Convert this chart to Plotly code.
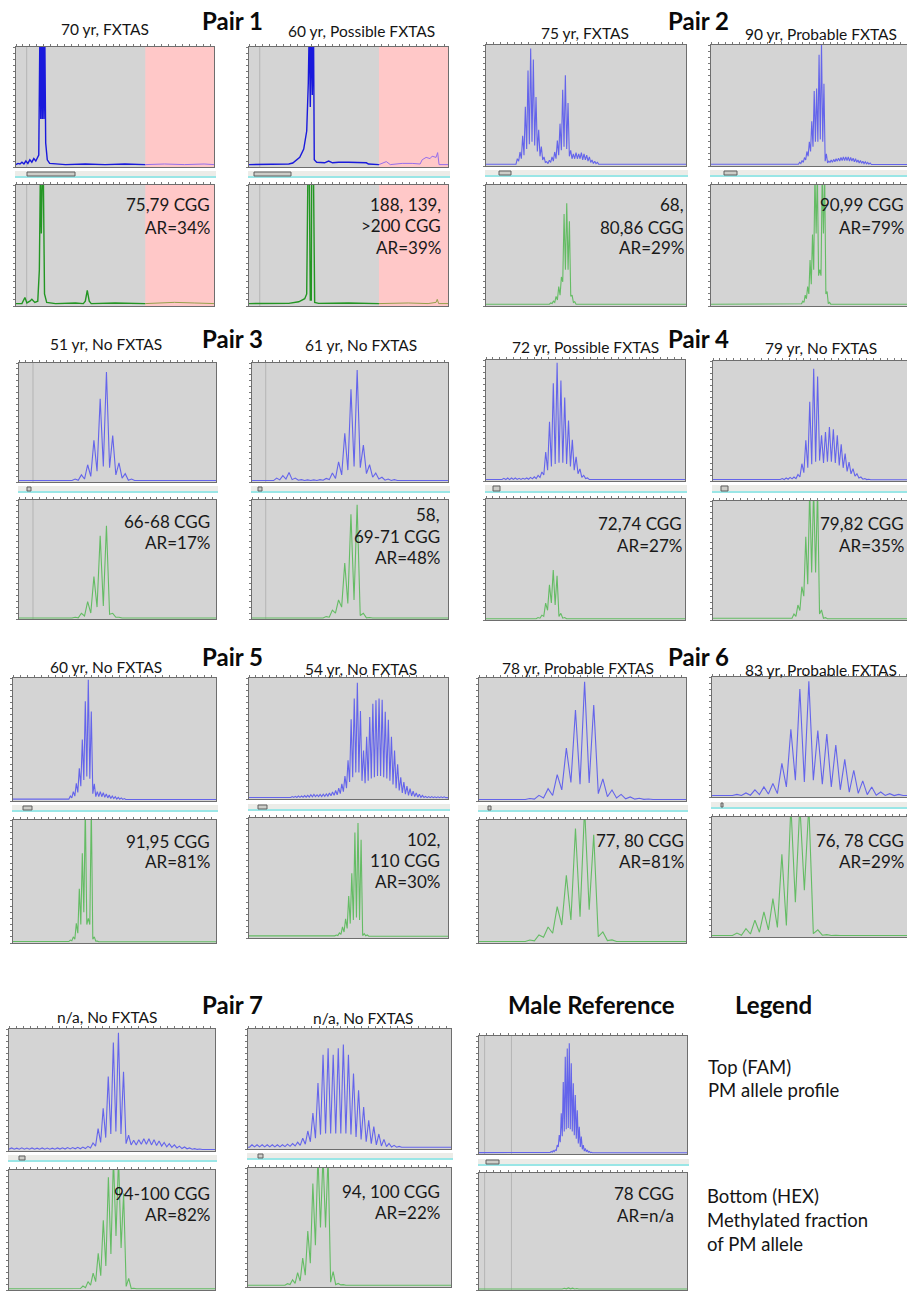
import plotly.graph_objects as go

W, H = 907, 1291

# ------------------------------------------------------------------
# DATA  (y values in % of panel height; x in % of panel width)
# ------------------------------------------------------------------
p1_70yr_fam_x = [0, 1, 2, 3, 4, 5, 6, 7, 8, 9, 10, 11, 11.5, 12.1, 12.5, 12.9, 13.3, 13.7, 14.1, 14.5, 15.0, 15.8, 17,
                 25, 35, 45, 55, 65.3, 75, 85, 95, 100]
p1_70yr_fam_y = [2, 3, 2.5, 4, 2.5, 5, 3, 6, 4, 7, 5, 8, 10, 120, 40, 120, 40, 120, 40, 120, 20, 6, 3,
                 2, 2.5, 2, 2.5, 2, 2.5, 2, 2.5, 2]
p1_70yr_hex_x = [0, 3, 4.5, 5.5, 7, 8, 9.5, 11, 11.8, 12.3, 12.8, 13.3, 13.8, 14.4, 15.5, 20, 30, 34, 35, 36,
                 37, 38, 50, 60, 65.3, 70, 80, 90, 100]
p1_70yr_hex_y = [2, 2, 7, 2.5, 4, 5.5, 3, 4, 30, 110, 60, 110, 110, 10, 3, 2, 2.5, 2, 4, 13,
                 4, 2, 2.5, 2, 2, 2.5, 3, 2.5, 2]
p1_60yr_fam_x = [0, 10, 20, 22, 25.5, 27.5, 29, 29.8, 30.3, 30.8, 31.3, 31.8, 32.4, 32.8, 34, 38, 40, 42, 45, 50,
                 55, 59, 60, 65.3, 69, 71, 77, 82, 86, 87, 89, 91, 92, 94, 94.8, 95.5, 100]
p1_60yr_fam_y = [2, 2.3, 2.5, 3.3, 8, 15, 30, 70, 120, 50, 120, 60, 120, 6, 4, 3.5, 5, 3.5, 4, 4,
                 3.5, 3.5, 2.5, 2, 4.5, 2, 3, 3, 2.5, 6, 8, 7, 9, 8, 12, 2, 2]
p1_60yr_hex_x = [0, 20, 25, 28, 29, 29.6, 30.3, 30.8, 31.3, 31.5, 32.4, 33, 35, 50, 65.3, 80, 90, 94, 94.6, 95.3, 100]
p1_60yr_hex_y = [2, 2.2, 3.5, 6, 10, 110, 110, 5, 5, 110, 110, 3, 2.2, 2.5, 2, 2.5, 2, 3, 5.5, 2, 2]

# Other pairs: profile = alternating valley / peak heights on a regular repeat grid
p2_75yr_fam = [1.5, 6, 4, 11.6, 6, 25, 9, 49, 14, 79, 18, 97, 20, 88, 17, 57, 12, 30, 8, 16, 5, 7.5, 3, 3.5,
               2, 4.7, 3, 7.5, 4, 11.6, 6, 21, 9, 35, 13, 63, 16, 75, 14, 52, 8, 13, 6, 10, 6, 11, 6, 10,
               6, 11, 5, 10, 5, 9, 4, 7.5, 3, 5, 2, 4, 2, 3, 1.5]
p2_75yr_hex = [1.5, 2.5, 2, 4, 3, 8, 5, 16, 9, 24, 20, 76, 30, 85, 30, 70, 8, 9, 3, 3.5, 1.5]
p2_90yr_fam = [1.5, 3, 2, 4.5, 3, 7, 5, 12, 8, 20, 12, 37, 16, 62, 20, 64, 20, 92, 22, 101, 20, 68, 4, 10,
               2.5, 4, 3, 5, 3, 5.5, 3.5, 6, 4, 6.5, 4, 7, 4.5, 7.5, 4.5, 7.5, 4.5, 7.5, 4, 7, 4, 6.5,
               3.5, 6, 3, 5, 2.5, 4.5, 2.2, 4, 2, 3.5, 1.8, 3, 1.5, 2.5, 1.2]
p2_90yr_hex = [1.5, 2, 1.8, 4, 3, 9, 6, 16, 10, 38, 18, 59, 30, 110, 60, 110, 25, 30, 25, 110, 60, 110,
               10, 12, 2, 3, 1.5]
p3_51yr_fam = [1.2, 2.5, 1.5, 6, 2.5, 14.5, 4.7, 35, 9, 70, 13, 92.5, 12, 39, 6, 16, 3.3, 7, 1.5, 2.5, 1.2]
p3_51yr_hex = [0.8, 1.5, 1, 4.8, 2.5, 14.6, 5, 35.6, 10, 70, 11, 78.4, 4, 4.8, 1.5, 1.5, 0.8]
p3_61yr_fam = [1.2, 3.3, 1.8, 5.3, 2.5, 8, 2, 3.3, 1.5, 2, 1.3, 1.8, 1.3, 1.8, 1.3, 2, 1.5, 3, 2, 7.5,
               3, 17, 6, 41, 10, 78, 13, 94, 12, 31, 7, 14.5, 4, 7.5, 2.5, 4, 1.5, 2.5, 1.3, 2, 1.2]
p3_61yr_hex = [0.8, 1, 0.8, 2, 1.5, 7.5, 5, 16, 10, 47, 13, 88, 16, 96, 3, 4.8, 1, 1.2, 0.8]
p4_72yr_fam = [1.2, 2.2, 1.2, 2.5, 1.2, 2.5, 1.3, 2.5, 1.3, 2.2, 1.3, 2.2, 1.5, 2.5, 1.5, 3, 1.8, 3.5,
               2, 4.7, 3, 7.5, 5, 24, 9, 49, 12, 80.7, 14, 97.8, 15, 83, 15, 69, 14, 50, 12, 34, 9, 20,
               6, 10, 3, 4.7, 2, 2.5, 1.2]
p4_72yr_hex = [1, 2, 1.5, 4, 3, 14, 8, 29, 14, 41.4, 12.4, 36.5, 3, 5.5, 1.5, 2, 1]
p4_79yr_fam = [1.2, 2, 1.2, 2.5, 1.5, 3, 1.8, 3.3, 2, 5.5, 3.5, 14.4, 7, 34, 11, 66, 14, 93.6, 16, 87,
               17, 38, 15, 40.8, 16, 45, 16, 43, 15, 38, 13, 30.5, 11, 22.8, 8, 15.8, 6, 10.3, 4, 6,
               2.5, 3.3, 1.5, 2, 1.2, 1.5, 1]
p4_79yr_hex = [1.5, 5, 3, 12.6, 8, 28, 20, 70, 30, 110, 40, 110, 40, 110, 5, 8.4, 1.5, 2, 1]
p5_60yr_fam = [1.5, 4, 2.5, 7.6, 4, 14.4, 7, 26.6, 12, 50, 17, 81, 20, 98.6, 18, 72.8, 6, 13.9, 3.5, 7.6,
               3.5, 7.6, 3.5, 6.8, 3, 5.7, 2.5, 4.9, 2, 4, 2, 3.5, 1.5, 3, 1.5, 2.5, 1.3, 2, 1.2]
p5_60yr_hex = [1.2, 2.4, 1.8, 5, 3, 16, 8, 44, 15, 73, 25, 110, 15, 20, 15, 110, 3, 5, 1.5, 1.5, 1]
p5_54yr_fam = [1.2, 1.8, 1.2, 2, 1.3, 2.2, 1.3, 2.5, 1.4, 2.5, 1.5, 2.8, 1.5, 3, 1.6, 3.5, 1.8, 3.8,
               2, 3.5, 2, 3.8, 2.1, 4, 2.2, 4.2, 2.4, 5, 2.6, 5.8, 3, 7, 3.5, 9, 4.5, 12.5, 6, 19,
               9, 32, 14, 66, 18, 83, 22, 96, 22, 72.7, 15, 40, 13, 51.5, 15, 67.7, 17, 78.8, 18, 81.6,
               19, 83, 19, 82, 18, 72, 17, 65.5, 15, 51.5, 12, 40, 9, 28.7, 7, 18, 5, 14, 4, 10.6,
               3, 8.6, 2.5, 6.4, 2, 5, 1.5, 4, 1.3, 3, 1.2, 2.2, 1.1, 2, 1.1, 2, 1.1, 1.8, 1.1, 1.8,
               1.1, 1.8, 1.1, 1.8, 1.1]
p5_54yr_hex = [1.8, 2.5, 2, 4.2, 3, 9.2, 5, 16, 8, 35, 12, 54, 15, 88, 17, 95.8, 15, 81.8, 2, 3.6,
               1.8, 2.5, 1.5]
p6_78yr_fam = [1.2, 2, 1.5, 4.6, 2.5, 10, 4.5, 21.5, 9, 43, 15, 74, 13.6, 97, 14.7, 78, 6, 18, 3.5, 9,
               2.5, 5.4, 1.8, 3.3, 1.5, 2.2, 1.3, 1.6, 1.2]
p6_78yr_hex = [1.2, 2.4, 1.8, 6.5, 4.6, 13, 7.9, 29.5, 14.6, 55, 18.7, 93, 21.4, 110, 27, 88, 5.1, 9,
               2, 2.5, 1.2]
p6_83yr_fam = [1.2, 1.6, 1.2, 2.2, 1.3, 3.4, 1.5, 6, 2, 8.4, 2.5, 11.2, 2.8, 28, 8.4, 56.4, 14, 90,
               12.6, 96.4, 14, 55.3, 10.6, 52.5, 8.4, 43.3, 6, 31.3, 4, 22.3, 3, 13.4, 2, 8.4, 1.5, 4.2,
               1.3, 2.8, 1.2, 2.2, 1.2]
p6_83yr_hex = [1.2, 1.4, 1.2, 3.3, 1.5, 7, 2.5, 14, 4, 21, 6, 32, 8, 69, 9.7, 110, 29, 110, 39, 110,
               2.8, 6, 1.5, 2, 1.2, 1.5, 1.2]
p7_a_fam = [1.5, 2.5, 1.5, 2.3, 1.5, 2.6, 1.5, 2.4, 1.5, 2.5, 1.5, 2.3, 1.5, 2.5, 1.5, 2.4, 1.5, 2.3,
            1.5, 2.5, 1.6, 2.6, 1.6, 2.8, 1.7, 2.8, 1.8, 3, 1.8, 3.2,
            2, 3.8, 2.5, 6.6, 4, 18.4, 7, 35, 11, 61, 14, 89, 16, 97, 14, 65, 6, 12.9, 5, 8.8,
            5, 9.3, 5.5, 10, 5.5, 10, 5, 9.3, 4.5, 8.2, 4, 7, 3.5, 6, 3, 5, 2.5, 4, 2, 3.3,
            1.8, 2.5, 1.5, 1.9, 1.3, 1.6, 1.2]
p7_a_hex = [1, 1.4, 1.2, 3.3, 2, 7, 4, 14, 7, 30.6, 12, 58, 20, 94, 30, 110, 45, 110, 35, 80.5,
            3, 9.7, 1.2, 1.5, 1]
p7_b_fam = [1.5, 3.5, 1.8, 3.5, 1.8, 3.5, 1.8, 3.5, 1.8, 3.5, 1.8, 3.5, 1.8, 3.5, 2, 4, 2.2, 4.5, 2.5, 5.6,
            3, 9, 4, 15, 6, 30, 9, 55, 12, 78.5, 13, 84, 13, 78.5, 13, 84, 13, 87, 13, 78.5,
            12, 63, 10, 49, 8, 35, 6, 24, 4.5, 18.7, 3.5, 12.5, 2.5, 8, 2, 4.7, 1.7, 3, 1.5, 2.2, 1.5]
p7_b_hex = [1.5, 2.8, 2, 6, 3, 12, 5, 24.4, 10, 47, 20, 87, 35, 110, 50, 110, 50, 110, 4, 13,
            2, 3, 1.8, 2, 1.5]
male_ref_fam = [1.2, 1.8, 1.3, 2.2, 1.5, 2.8, 2, 3.4, 3, 7.6, 6, 16, 10, 34.5, 15, 61, 19, 82.5, 21, 89.5,
                22, 93.8, 21, 76.8, 19, 60, 16, 50, 13, 37, 9, 23, 6, 14.7, 4, 7.6, 2.5, 4.8, 2, 3.4,
                1.5, 2.2, 1.2, 1.5, 1]
male_ref_hex = [0.8, 1.2, 0.9, 1.5, 1, 1.8, 1, 1.6, 0.9, 1.3, 0.8]

# Text
pair_titles = ["Pair 1", "Pair 2", "Pair 3", "Pair 4", "Pair 5", "Pair 6", "Pair 7", "Male Reference", "Legend"]
sample_titles = ["70 yr, FXTAS", "60 yr, Possible FXTAS", "75 yr, FXTAS", "90 yr, Probable FXTAS",
                 "51 yr, No FXTAS", "61 yr, No FXTAS", "72 yr, Possible FXTAS", "79 yr, No FXTAS",
                 "60 yr, No FXTAS", "54 yr, No FXTAS", "78 yr, Probable FXTAS", "83 yr, Probable FXTAS",
                 "n/a, No FXTAS", "n/a, No FXTAS"]
allele_notes = [["75,79 CGG", "AR=34%"], ["188, 139,", "&gt;200 CGG", "AR=39%"],
                ["68,", "80,86 CGG", "AR=29%"], ["90,99 CGG", "AR=79%"],
                ["66-68 CGG", "AR=17%"], ["58,", "69-71 CGG", "AR=48%"],
                ["72,74 CGG", "AR=27%"], ["79,82 CGG", "AR=35%"],
                ["91,95 CGG", "AR=81%"], ["102,", "110 CGG", "AR=30%"],
                ["77, 80 CGG", "AR=81%"], ["76, 78 CGG", "AR=29%"],
                ["94-100 CGG", "AR=82%"], ["94, 100 CGG", "AR=22%"],
                ["78 CGG", "AR=n/a"]]
legend_lines = ["Top (FAM)", "PM allele profile", "Bottom (HEX)", "Methylated fraction", "of PM allele"]

# ------------------------------------------------------------------
# LAYOUT / STYLE
# ------------------------------------------------------------------
FONT = "Lato, 'Open Sans', sans-serif"
BG = "rgb(212,212,212)"
FRAME = "rgb(110,110,110)"
DARK_BLUE, DARK_GREEN = "rgb(25,25,220)", "rgb(35,150,35)"
PINK_BLUE, PINK_GREEN = "rgb(150,110,235)", "rgb(150,160,75)"
BLUE, GREEN = "rgb(100,100,235)", "rgb(100,188,100)"


def px(x):
    return x / W


def py(y):
    return 1 - y / H


# geometry of each sample panel: left, right, top plot (y0,y1), bottom plot (y0,y1)
panels = [
    dict(L=16, R=214, top=(47, 167), bot=(185, 306), fam=(p1_70yr_fam_x, p1_70yr_fam_y),
         hex=(p1_70yr_hex_x, p1_70yr_hex_y), pts=True, pink=65.3, vl=[5.4], bar=(171, 177), th=(27, 75),
         note_x=212, note_y=[205, 227]),
    dict(L=249, R=448, top=(47, 167), bot=(185, 306), fam=(p1_60yr_fam_x, p1_60yr_fam_y),
         hex=(p1_60yr_hex_x, p1_60yr_hex_y), pts=True, pink=65.3, vl=[5.4], bar=(171, 177), th=(254, 291),
         note_x=443, note_y=[205, 226, 247]),
    dict(L=486, R=686, top=(45, 166), bot=(185, 306), fam=(p2_75yr_fam, 15.0, 0.667),
         hex=(p2_75yr_hex, 31.7, 0.667), bar=(170, 176), th=(499, 511),
         note_x=686, note_y=[205, 227, 248]),
    dict(L=711, R=911, top=(45, 166), bot=(185, 306), fam=(p2_90yr_fam, 43.7, 0.608),
         hex=(p2_90yr_hex, 44.06, 0.608), bar=(170, 176), th=(724, 737),
         note_x=906, note_y=[205, 227]),
    dict(L=19, R=216, top=(363, 482), bot=(500, 619), fam=(p3_51yr_fam, 26.9, 1.59),
         hex=(p3_51yr_hex, 26.9, 1.59), vl=[7.1], bar=(486, 492), th=(27, 31),
         note_x=212, note_y=[521, 542]),
    dict(L=252, R=448, top=(363, 482), bot=(500, 619), fam=(p3_61yr_fam, 11.0, 1.58),
         hex=(p3_61yr_hex, 33.1, 1.58), vl=[7.0], bar=(486, 492), th=(258, 262),
         note_x=442, note_y=[515, 536, 557]),
    dict(L=486, R=685, top=(360, 481), bot=(499, 620), fam=(p4_72yr_fam, 8.04, 0.955),
         hex=(p4_72yr_hex, 25.2, 0.955), bar=(485, 492), th=(493, 500),
         note_x=684, note_y=[523, 545]),
    dict(L=713, R=912, top=(361, 481), bot=(501, 620), fam=(p4_79yr_fam, 33.8, 0.988),
         hex=(p4_79yr_hex, 39.7, 0.988), bar=(485, 492), th=(721, 728),
         note_x=906, note_y=[523, 545]),
    dict(L=13, R=216, top=(678, 801), bot=(820, 943), fam=(p5_60yr_fam, 27.5, 0.738),
         hex=(p5_60yr_hex, 27.5, 0.738), bar=(805, 811), th=(23, 32),
         note_x=212, note_y=[841, 862]),
    dict(L=249, R=448, top=(678, 799), bot=(818, 938), fam=(p5_54yr_fam, 19.39, 0.779),
         hex=(p5_54yr_hex, 43.09, 0.779), bar=(804, 810), th=(258, 267),
         note_x=442, note_y=[839, 860, 881]),
    dict(L=479, R=686, top=(678, 801), bot=(820, 943), fam=(p6_78yr_fam, 22.35, 2.205),
         hex=(p6_78yr_hex, 22.35, 2.205), bar=(805, 811), th=(488, 491),
         note_x=686, note_y=[840, 862]),
    dict(L=712, R=918, top=(677, 797), bot=(817, 937), fam=(p6_83yr_fam, 5.57, 2.181),
         hex=(p6_83yr_hex, 5.57, 2.181), bar=(802, 808), th=(721, 723),
         note_x=906, note_y=[840, 862]),
    dict(L=9, R=215, top=(1029, 1151), bot=(1170, 1290), fam=(p7_a_fam, 0.06, 1.234),
         hex=(p7_a_hex, 32.2, 1.234), bar=(1155, 1161), th=(19, 25),
         note_x=212, note_y=[1193, 1214]),
    dict(L=248, R=451, top=(1029, 1149), bot=(1168, 1287), fam=(p7_b_fam, 0.72, 1.25),
         hex=(p7_b_hex, 18.2, 1.25), bar=(1153, 1159), th=(258, 263),
         note_x=442, note_y=[1191, 1212]),
    dict(L=479, R=687, top=(1036, 1154), bot=(1173, 1290), fam=(male_ref_fam, 33.28, 0.482),
         hex=(male_ref_hex, 38.0, 1.0), vl=[2.7, 15.6], bar=(1159, 1165), th=(486, 499),
         note_x=676, note_y=[1193, 1215]),
]

title_pos = [(105, 29), (361, 31), (585, 33), (821, 34), (106, 344), (361, 345), (585, 347), (821, 348),
             (106, 667), (361, 669), (578, 668), (821, 670), (107, 1017), (363, 1018)]
pair_pos = [(232, 21), (698, 21), (232, 338), (698, 338), (232, 656), (698, 656), (232, 1004),
            (591, 1004), (773, 1004)]
legend_pos = [(706, 1067), (706, 1090), (705, 1196), (705, 1220), (705, 1244)]

fig = go.Figure()
layout = {}
shapes = []
annotations = []


def profile_xy(ys, x0, dx):
    xs = [0.0] + [x0 + i * dx for i in range(len(ys))] + [100.0]
    yv = [ys[0]] + list(ys) + [ys[-1]]
    return xs, yv


n = 0
for k, p in enumerate(panels):
    L, R = p["L"], p["R"]
    right = min(R, W)
    xr = 100.0 * (right - L) / (R - L)
    clipped = R > W
    for part in ("fam", "hex"):
        n += 1
        xa = "x" if n == 1 else f"x{n}"
        ya = "y" if n == 1 else f"y{n}"
        y0, y1 = p["top"] if part == "fam" else p["bot"]
        ax_common = dict(showgrid=False, zeroline=False, showticklabels=False, showline=True,
                         linecolor=FRAME, linewidth=1, ticks="outside", ticklen=2, tickwidth=1,
                         tickcolor="rgb(120,120,120)", fixedrange=True)
        layout["xaxis" if n == 1 else f"xaxis{n}"] = dict(
            ax_common, domain=[px(L), px(right)], range=[0, xr], anchor=ya, side="top",
            mirror=True, dtick=3.5, tick0=0)
        layout["yaxis" if n == 1 else f"yaxis{n}"] = dict(
            ax_common, domain=[py(y1), py(y0)], range=[0, 100], anchor=xa,
            mirror=(not clipped), dtick=5, tick0=0)

        if p.get("pts"):
            xs, ys = p[part]
            xs, ys = list(xs), list(ys)
        else:
            ys_prof, x0, dx = p[part]
            xs, ys = profile_xy(ys_prof, x0, dx)

        col = (BLUE if part == "fam" else GREEN)
        width = 1.1
        if p.get("pts"):
            col = DARK_BLUE if part == "fam" else DARK_GREEN
            width = 1.4
        pink = p.get("pink")
        if pink is not None:
            lx = [x for x in xs if x <= pink]
            ly = [y for x, y in zip(xs, ys) if x <= pink]
            rx = [x for x in xs if x >= pink]
            ry = [y for x, y in zip(xs, ys) if x >= pink]
            fig.add_trace(go.Scatter(x=lx, y=ly, xaxis=xa, yaxis=ya, mode="lines",
                                     line=dict(color=col, width=width), hoverinfo="skip", showlegend=False))
            fig.add_trace(go.Scatter(x=rx, y=ry, xaxis=xa, yaxis=ya, mode="lines",
                                     line=dict(color=PINK_BLUE if part == "fam" else PINK_GREEN, width=1.0),
                                     hoverinfo="skip", showlegend=False))
            shapes.append(dict(type="rect", xref=xa, yref=ya, x0=pink, x1=100, y0=0, y1=100,
                               fillcolor="rgb(255,200,200)", line=dict(width=0), layer="below"))
        else:
            fig.add_trace(go.Scatter(x=xs, y=ys, xaxis=xa, yaxis=ya, mode="lines",
                                     line=dict(color=col, width=width), hoverinfo="skip", showlegend=False))
        for v in p.get("vl", []):
            shapes.append(dict(type="line", xref=xa, yref=ya, x0=v, x1=v, y0=0, y1=100,
                               line=dict(color="rgb(180,180,180)", width=1), layer="below"))

    # scroll bar between the two traces
    b0, b1 = p["bar"]
    shapes.append(dict(type="rect", xref="paper", yref="paper", x0=px(L - 1), x1=px(min(R + 2, W)),
                       y0=py(b1 - 1), y1=py(b0), fillcolor="rgb(236,236,232)", line=dict(width=0)))
    shapes.append(dict(type="line", xref="paper", yref="paper", x0=px(L - 1), x1=px(min(R + 2, W)),
                       y0=py(b1), y1=py(b1), line=dict(color="rgb(120,222,222)", width=1.5)))
    t0, t1 = p["th"]
    shapes.append(dict(type="rect", xref="paper", yref="paper", x0=px(t0), x1=px(t1),
                       y0=py(b1 - 1), y1=py(b0 + 1), fillcolor="rgb(205,205,200)",
                       line=dict(color="rgb(95,95,95)", width=1)))

    # allele / activation-ratio notes
    for txt, yy in zip(allele_notes[k], p["note_y"]):
        annotations.append(dict(x=px(p["note_x"]), y=py(yy), xref="paper", yref="paper", text=txt,
                                showarrow=False, xanchor="right", yanchor="middle",
                                font=dict(family=FONT, size=17, color="rgb(25,25,25)")))

for txt, (xx, yy) in zip(sample_titles, title_pos):
    annotations.append(dict(x=px(xx), y=py(yy), xref="paper", yref="paper", text=txt, showarrow=False,
                            xanchor="center", yanchor="middle",
                            font=dict(family=FONT, size=15.5, color="rgb(20,20,20)")))
for txt, (xx, yy) in zip(pair_titles, pair_pos):
    annotations.append(dict(x=px(xx), y=py(yy), xref="paper", yref="paper", text=f"<b>{txt}</b>",
                            showarrow=False, xanchor="center", yanchor="middle",
                            font=dict(family=FONT, size=24, color="rgb(10,10,10)")))
for txt, (xx, yy) in zip(legend_lines, legend_pos):
    annotations.append(dict(x=px(xx), y=py(yy), xref="paper", yref="paper", text=txt, showarrow=False,
                            xanchor="left", yanchor="middle",
                            font=dict(family=FONT, size=18.5, color="rgb(20,20,20)")))

fig.update_layout(**layout)
fig.update_layout(width=W, height=H, margin=dict(l=0, r=0, t=0, b=0, pad=0),
                  paper_bgcolor="white", plot_bgcolor=BG, showlegend=False,
                  shapes=shapes, annotations=annotations)
fig.write_html("out.html", config={"displayModeBar": False},
               post_script="document.body.style.margin='0px';document.body.style.overflow='hidden';")
